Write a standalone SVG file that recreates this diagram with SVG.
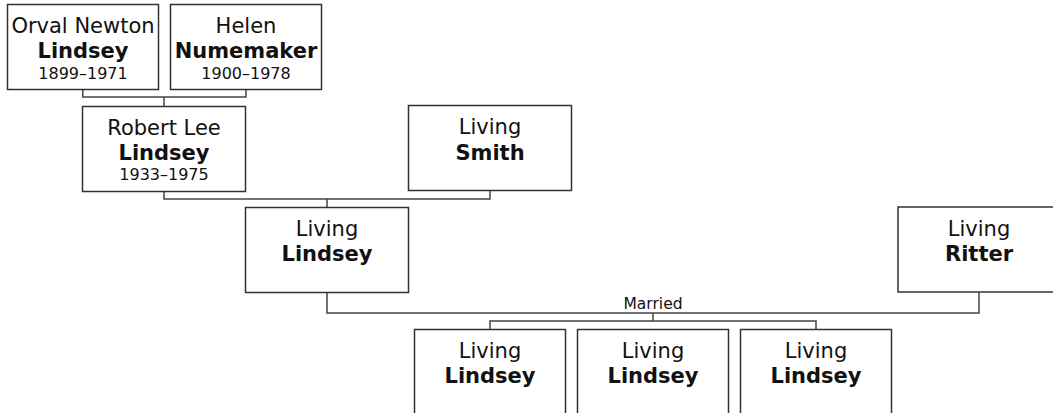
<svg xmlns="http://www.w3.org/2000/svg" width="1053" height="413" viewBox="0 0 1053 413">
<style>
.box{fill:#fff;stroke:#333;stroke-width:1.5}
.ln{fill:none;stroke:#444;stroke-width:1.5}
text{font-family:"DejaVu Sans","Verdana",sans-serif;text-anchor:middle;fill:#111}
.g{font-size:21px}
.s{font-size:21px;font-weight:bold}
.d{font-size:16px}
.m{font-size:15.5px}
</style>
<rect width="1053" height="413" fill="#fff"/>
<g id="connectors">
<path class="ln" d="M82.8,89V97H246V89M164,97V106"/>
<path class="ln" d="M164,191V199H490V191M327,199V207"/>
<path class="ln" d="M327,292V313H979V292M653,313V321M490,329V321H816V329"/>
<text class="m" x="653" y="309">Married</text>
</g>
<g id="orval">
<rect class="box" x="7.5" y="4.5" width="151" height="85"/>
<text x="83" y="32.5" class="g">Orval Newton</text>
<text x="83" y="58" class="s">Lindsey</text>
<text x="83" y="78.5" class="d">1899–1971</text>
</g>
<g id="helen">
<rect class="box" x="170.5" y="4.5" width="151" height="85"/>
<text x="246" y="32.5" class="g">Helen</text>
<text x="246" y="58" class="s">Numemaker</text>
<text x="246" y="78.5" class="d">1900–1978</text>
</g>
<g id="robert">
<rect class="box" x="82.5" y="106.5" width="163" height="85"/>
<text x="164" y="134.5" class="g">Robert Lee</text>
<text x="164" y="160" class="s">Lindsey</text>
<text x="164" y="180" class="d">1933–1975</text>
</g>
<g id="smith">
<rect class="box" x="408.5" y="105.5" width="163" height="85"/>
<text x="490" y="134" class="g">Living</text>
<text x="490" y="159.5" class="s">Smith</text>
</g>
<g id="lindsey">
<rect class="box" x="245.5" y="207.5" width="163" height="85"/>
<text x="327" y="235.5" class="g">Living</text>
<text x="327" y="261" class="s">Lindsey</text>
</g>
<g id="ritter">
<rect class="box" x="898" y="207" width="163" height="85"/>
<text x="979" y="235.5" class="g">Living</text>
<text x="979" y="261" class="s">Ritter</text>
</g>
<g id="child1">
<rect class="box" x="414.5" y="329.5" width="151" height="90"/>
<text x="490" y="357.5" class="g">Living</text>
<text x="490" y="383" class="s">Lindsey</text>
</g>
<g id="child2">
<rect class="box" x="577.5" y="329.5" width="151" height="90"/>
<text x="653" y="357.5" class="g">Living</text>
<text x="653" y="383" class="s">Lindsey</text>
</g>
<g id="child3">
<rect class="box" x="740.5" y="329.5" width="151" height="90"/>
<text x="816" y="357.5" class="g">Living</text>
<text x="816" y="383" class="s">Lindsey</text>
</g>
</svg>
